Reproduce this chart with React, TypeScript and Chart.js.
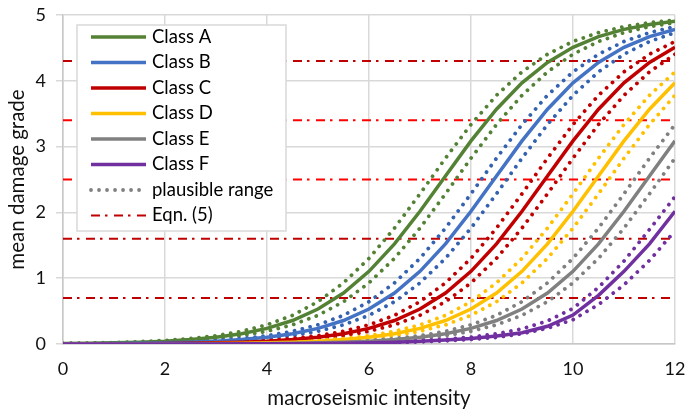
import React, { useEffect, useRef } from 'react';
import { Chart, registerables } from 'chart.js';

Chart.register(...registerables);

// ---------- data ----------
const intensity = [0, 0.5, 1, 1.5, 2, 2.5, 3, 3.5, 4, 4.5, 5, 5.5, 6, 6.5, 7, 7.5, 8, 8.5, 9, 9.5, 10, 10.5, 11, 11.5, 12];

const classA = [0.008, 0.012, 0.018, 0.028, 0.043, 0.067, 0.102, 0.156, 0.237, 0.357, 0.531, 0.775, 1.104, 1.522, 2.017, 2.554, 3.087, 3.568, 3.969, 4.280, 4.509, 4.671, 4.782, 4.857, 4.906];
const classB = [0.003, 0.005, 0.008, 0.012, 0.018, 0.028, 0.043, 0.067, 0.102, 0.156, 0.237, 0.357, 0.531, 0.775, 1.104, 1.522, 2.017, 2.554, 3.087, 3.568, 3.969, 4.280, 4.509, 4.671, 4.782];
const classC = [0.001, 0.002, 0.003, 0.005, 0.008, 0.012, 0.018, 0.028, 0.043, 0.067, 0.102, 0.156, 0.237, 0.357, 0.531, 0.775, 1.104, 1.522, 2.017, 2.554, 3.087, 3.568, 3.969, 4.280, 4.509];
const classD = [0.000, 0.001, 0.001, 0.002, 0.003, 0.005, 0.008, 0.012, 0.018, 0.028, 0.043, 0.067, 0.102, 0.156, 0.237, 0.357, 0.531, 0.775, 1.104, 1.522, 2.017, 2.554, 3.087, 3.568, 3.969];
const classE = [0.000, 0.000, 0.000, 0.001, 0.001, 0.002, 0.003, 0.005, 0.008, 0.012, 0.018, 0.028, 0.043, 0.067, 0.102, 0.156, 0.237, 0.357, 0.531, 0.775, 1.104, 1.522, 2.017, 2.554, 3.087];
const classF = [0.000, 0.000, 0.000, 0.000, 0.000, 0.001, 0.001, 0.002, 0.003, 0.005, 0.008, 0.012, 0.018, 0.026, 0.040, 0.060, 0.085, 0.120, 0.170, 0.270, 0.440, 0.740, 1.104, 1.522, 2.017];

const upperA = [0.010, 0.015, 0.023, 0.035, 0.054, 0.083, 0.126, 0.193, 0.291, 0.436, 0.643, 0.929, 1.302, 1.762, 2.283, 2.824, 3.336, 3.780, 4.136, 4.404, 4.597, 4.732, 4.823, 4.884, 4.924];
const lowerA = [0.006, 0.010, 0.015, 0.023, 0.035, 0.054, 0.083, 0.126, 0.193, 0.291, 0.436, 0.643, 0.929, 1.302, 1.762, 2.283, 2.824, 3.336, 3.780, 4.136, 4.404, 4.597, 4.732, 4.823, 4.884];
const upperB = [0.004, 0.006, 0.010, 0.015, 0.023, 0.035, 0.054, 0.083, 0.126, 0.193, 0.291, 0.436, 0.643, 0.929, 1.302, 1.762, 2.283, 2.824, 3.336, 3.780, 4.136, 4.404, 4.597, 4.732, 4.823];
const lowerB = [0.003, 0.004, 0.006, 0.010, 0.015, 0.023, 0.035, 0.054, 0.083, 0.126, 0.193, 0.291, 0.436, 0.643, 0.929, 1.302, 1.762, 2.283, 2.824, 3.336, 3.780, 4.136, 4.404, 4.597, 4.732];
const upperC = [0.002, 0.003, 0.004, 0.006, 0.010, 0.015, 0.023, 0.035, 0.054, 0.083, 0.126, 0.193, 0.291, 0.436, 0.643, 0.929, 1.302, 1.762, 2.283, 2.824, 3.336, 3.780, 4.136, 4.404, 4.597];
const lowerC = [0.001, 0.002, 0.003, 0.004, 0.006, 0.010, 0.015, 0.023, 0.035, 0.054, 0.083, 0.126, 0.193, 0.291, 0.436, 0.643, 0.929, 1.302, 1.762, 2.283, 2.824, 3.336, 3.780, 4.136, 4.404];
const upperD = [0.001, 0.001, 0.002, 0.003, 0.004, 0.006, 0.010, 0.015, 0.023, 0.035, 0.054, 0.083, 0.126, 0.193, 0.291, 0.436, 0.643, 0.929, 1.302, 1.762, 2.283, 2.824, 3.336, 3.780, 4.136];
const lowerD = [0.000, 0.001, 0.001, 0.002, 0.003, 0.004, 0.006, 0.010, 0.015, 0.023, 0.035, 0.054, 0.083, 0.126, 0.193, 0.291, 0.436, 0.643, 0.929, 1.302, 1.762, 2.283, 2.824, 3.336, 3.780];
const upperE = [0.000, 0.000, 0.001, 0.001, 0.002, 0.003, 0.004, 0.006, 0.010, 0.015, 0.023, 0.035, 0.054, 0.083, 0.126, 0.193, 0.291, 0.436, 0.643, 0.929, 1.302, 1.762, 2.283, 2.824, 3.336];
const lowerE = [0.000, 0.000, 0.000, 0.001, 0.001, 0.002, 0.003, 0.004, 0.006, 0.010, 0.015, 0.023, 0.035, 0.054, 0.083, 0.126, 0.193, 0.291, 0.436, 0.643, 0.929, 1.302, 1.762, 2.283, 2.824];
const upperF = [0.000, 0.000, 0.000, 0.000, 0.001, 0.001, 0.002, 0.003, 0.004, 0.006, 0.010, 0.015, 0.023, 0.033, 0.050, 0.072, 0.105, 0.155, 0.230, 0.350, 0.540, 0.860, 1.260, 1.740, 2.240];
const lowerF = [0.000, 0.000, 0.000, 0.000, 0.000, 0.001, 0.001, 0.002, 0.003, 0.004, 0.006, 0.010, 0.015, 0.021, 0.032, 0.048, 0.070, 0.100, 0.155, 0.240, 0.370, 0.600, 0.900, 1.270, 1.720];

const eqnLevels = [0.7, 1.6, 2.5, 3.4, 4.3];

const classLabels = ['Class A', 'Class B', 'Class C', 'Class D', 'Class E', 'Class F'];
const rangeLabel = 'plausible range';
const eqnLabel = 'Eqn. (5)';
const xTitle = 'macroseismic intensity';
const yTitle = 'mean damage grade';

// ---------- styles ----------
const FONT = 'Lato';
const solidColors = ['#548235', '#4472C4', '#C00000', '#FFC000', '#808080', '#7030A0'];
const dotColors = ['#548235', '#3462B0', '#C00000', '#FFC000', '#808080', '#7030A0'];
const eqnColors = ['#C00000', '#C00000', '#FF0000', '#FF0000', '#C00000'];
const rangeLegendColor = '#808080';
const DOT_DASH = [0.01, 8];
const EQN_DASH = [9, 5, 2.5, 6.5];

const solids = [classA, classB, classC, classD, classE, classF];
const uppers = [upperA, upperB, upperC, upperD, upperE, upperF];
const lowers = [lowerA, lowerB, lowerC, lowerD, lowerE, lowerF];

const pts = (ys: number[]) => intensity.map((x, i) => ({ x, y: ys[i] }));
const X_MIN = intensity[0];
const X_MAX = intensity[intensity.length - 1];

function buildDatasets() {
  const ds: any[] = [];
  eqnLevels.forEach((lvl, i) => {
    ds.push({
      label: eqnLabel,
      data: [{ x: X_MIN, y: lvl }, { x: X_MAX, y: lvl }],
      borderColor: eqnColors[i],
      borderWidth: 2,
      borderDash: EQN_DASH,
      pointRadius: 0,
      order: 100,
    });
  });
  solids.forEach((_, k) => {
    [uppers[k], lowers[k]].forEach((arr) => {
      ds.push({
        label: rangeLabel,
        data: pts(arr),
        borderColor: dotColors[k],
        borderWidth: 3.8,
        borderDash: DOT_DASH,
        borderCapStyle: 'round',
        pointRadius: 0,
        order: 50 - k,
      });
    });
  });
  solids.forEach((arr, k) => {
    ds.push({
      label: classLabels[k],
      data: pts(arr),
      borderColor: solidColors[k],
      borderWidth: 3.5,
      pointRadius: 0,
      order: 10 - k,
    });
  });
  return ds;
}

const legendPlugin = {
  id: 'boxLegend',
  afterDatasetsDraw(chart: any) {
    const { ctx, chartArea } = chart;
    const x0 = chartArea.left + 14;
    const y0 = chartArea.top + 10;
    const w = 209;
    const h = 206;
    ctx.save();
    ctx.fillStyle = '#ffffff';
    ctx.fillRect(x0, y0, w, h);
    ctx.strokeStyle = '#D9D9D9';
    ctx.lineWidth = 1.5;
    ctx.strokeRect(x0, y0, w, h);
    const entries: any[] = classLabels.map((t, k) => ({ text: t, color: solidColors[k], dash: [], width: 3.5, cap: 'butt' }));
    entries.push({ text: rangeLabel, color: rangeLegendColor, dash: DOT_DASH, width: 3.8, cap: 'round' });
    entries.push({ text: eqnLabel, color: eqnColors[0], dash: EQN_DASH, width: 2, cap: 'butt' });
    entries.forEach((e, i) => {
      const y = y0 + 12 + i * 25.5;
      ctx.beginPath();
      ctx.setLineDash(e.dash);
      ctx.lineCap = e.cap;
      ctx.strokeStyle = e.color;
      ctx.lineWidth = e.width;
      ctx.moveTo(x0 + 14, y);
      ctx.lineTo(x0 + 69, y);
      ctx.stroke();
      ctx.setLineDash([]);
      ctx.fillStyle = '#000';
      ctx.font = `18.5px ${FONT}`;
      ctx.textBaseline = 'middle';
      ctx.textAlign = 'left';
      ctx.fillText(e.text, x0 + 75, y);
    });
    ctx.restore();
  },
};

export default function App() {
  const ref = useRef<HTMLCanvasElement>(null);
  useEffect(() => {
    const canvas = ref.current;
    if (!canvas) return;
    const chart = new Chart(canvas, {
      type: 'line',
      data: { datasets: buildDatasets() },
      options: {
        animation: false,
        responsive: false,
        devicePixelRatio: 1,
        layout: { padding: { left: 0, top: 15, right: 10, bottom: 0 } },
        plugins: { legend: { display: false }, tooltip: { enabled: false } },
        elements: { point: { radius: 0 }, line: { tension: 0 } },
        scales: {
          x: {
            type: 'linear',
            min: 0,
            max: 12,
            ticks: { stepSize: 2, padding: 14, color: '#111', font: { family: FONT, size: 18 } },
            grid: { color: '#D9D9D9', lineWidth: 1.5, drawTicks: false },
            border: { color: '#C8C8C8', width: 1.5 },
            title: { display: true, text: xTitle, color: '#111', font: { family: FONT, size: 20.5 }, padding: { top: 0, bottom: 2 } },
            afterFit: (s: any) => { s.height = 69; s.paddingLeft = 0; s.paddingRight = 0; },
          },
          y: {
            type: 'linear',
            min: 0,
            max: 5,
            ticks: { stepSize: 1, padding: 10, color: '#111', font: { family: FONT, size: 18 } },
            grid: { color: '#D9D9D9', lineWidth: 1.5, tickLength: 7 },
            border: { color: '#C8C8C8', width: 1.5 },
            title: { display: true, text: yTitle, color: '#111', font: { family: FONT, size: 20.5 }, padding: { top: 5, bottom: 0 } },
            afterFit: (s: any) => { s.width = 63; s.paddingTop = 0; s.paddingBottom = 0; },
          },
        },
      } as any,
      plugins: [legendPlugin],
    });
    return () => chart.destroy();
  }, []);
  return (
    <div style={{ position: 'fixed', left: 0, top: 0, width: 685, height: 413, background: '#fff' }}>
      <canvas ref={ref} width={685} height={413} style={{ display: 'block' }} />
    </div>
  );
}
